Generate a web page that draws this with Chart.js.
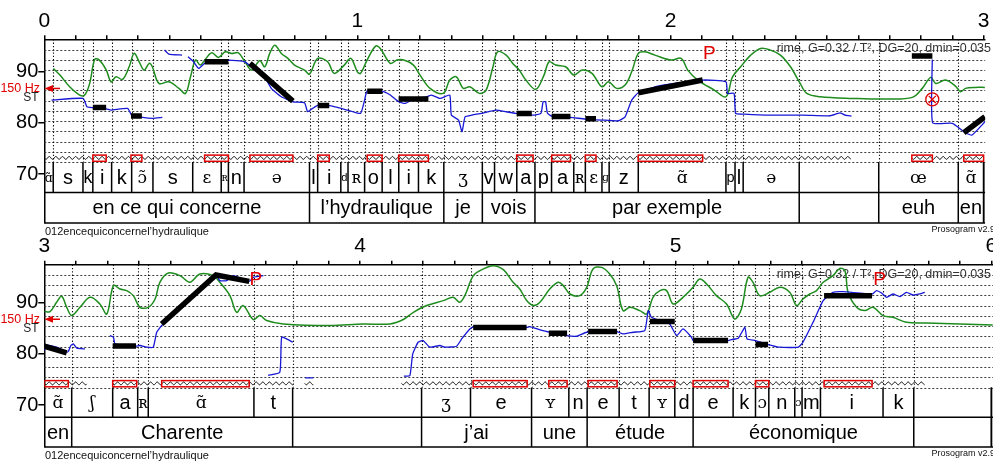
<!DOCTYPE html>
<html>
<head>
<meta charset="utf-8">
<script src="https://cdn.jsdelivr.net/npm/chart.js@4/dist/chart.umd.min.js"></script>
<style>
  html, body { margin: 0; padding: 0; background: #fff; overflow: hidden; }
  #wrap { position: relative; width: 993px; height: 464px; }
  canvas { position: absolute; left: 0; }
  #c1 { top: 0; }
  #c2 { top: 232px; }
</style>
</head>
<body>
<div id="wrap">
  <canvas id="c1" width="993" height="240"></canvas>
  <canvas id="c2" width="993" height="232"></canvas>
</div>
<script>
// ---------- shared ----------
const yTicks = [70, 80, 90];          // semitone tick labels
const refHz = 150;                    // reference marker on the pitch axis
const fileName = '012encequiconcernel’hydraulique';
const stylText = 'rime, G=0.32 / T², DG=20, dmin=0.035';

// ---------- panel 1 : 0 – 3 s ----------
const phonTimesTop = [0, 0.0285, 0.1235, 0.155, 0.215, 0.279, 0.347, 0.474, 0.565, 0.588, 0.638,
  0.847, 0.873, 0.947, 0.970, 1.023, 1.079, 1.132, 1.195, 1.276, 1.399, 1.438, 1.509, 1.567,
  1.620, 1.691, 1.728, 1.781, 1.804, 1.897, 2.177, 2.206, 2.232, 2.411, 2.665, 2.919, 3.0];
const phonLabelsTop = ['ɑ̃', 's', 'k', 'i', 'k', 'ɔ̃', 's', 'ɛ', 'ʀ', 'n', 'ə',
  'l', 'i', 'd', 'ʀ', 'o', 'l', 'i', 'k', 'ʒ', 'v', 'w', 'a', 'p',
  'a', 'ʀ', 'ɛ', 'ɡ', 'z', 'ɑ̃', 'p', 'l', 'ə', '', 'œ', 'ɑ̃'];
const wordTimesTop = [0, 0.847, 1.276, 1.399, 1.567, 2.411, 2.665, 2.919, 3.0];
const wordLabelsTop = ['en ce qui concerne', 'l’hydraulique', 'je', 'vois', 'par exemple', '', 'euh', 'en'];
const nucleiTop = [[0.155, 0.1976], [0.2768, 0.3116], [0.512, 0.588], [0.6567, 0.7939], [0.873, 0.910],
  [1.0313, 1.0788], [1.1317, 1.2267], [1.5085, 1.561], [1.6203, 1.6805], [1.728, 1.762],
  [1.8968, 2.1026], [2.7707, 2.8363], [2.9366, 3.0]];
// stylized pitch: [start, end, semitones at start, semitones at end]
const stylTop = [[0.155, 0.1976, 83.0, 83.0], [0.2768, 0.3116, 81.35, 81.35], [0.512, 0.588, 91.95, 91.95],
  [0.6567, 0.7939, 91.64, 84.28], [0.873, 0.910, 83.4, 83.4], [1.0313, 1.0788, 86.2, 86.2],
  [1.1317, 1.2267, 84.67, 84.67], [1.5085, 1.557, 81.87, 81.87], [1.6203, 1.6805, 81.28, 81.28],
  [1.728, 1.762, 80.8, 80.8], [1.8968, 2.1026, 85.9, 88.4], [2.7707, 2.8363, 93.07, 93.07],
  [2.9366, 3.004, 78.1, 81.2]];
const voicedTop = [[0, 2.577], [2.7707, 3.0]];
const f0Top = [
  [0.023, 84.47], [0.124, 84.80], [0.136, 83.16], [0.155, 82.97], [0.198, 82.77], [0.213, 82.52],
  [0.266, 82.85], [0.279, 81.54], [0.314, 81.09], [0.345, 80.90], [0.377, 81.09], null,
  [0.384, 94.24], [0.398, 93.46], [0.440, 93.26], null,
  [0.459, 92.93], [0.477, 91.95], [0.493, 90.66], [0.512, 91.64], [0.588, 92.29], [0.641, 91.95],
  [0.673, 90.33], [0.704, 89.02], [0.725, 86.76], [0.757, 85.12], [0.794, 84.14], [0.831, 83.95],
  [0.841, 82.19], [0.857, 82.85], [0.873, 83.44], [0.905, 83.44], [0.936, 83.05], [0.968, 82.52],
  [1.010, 81.88], [1.023, 84.47], [1.031, 86.23], [1.079, 86.23], [1.105, 85.45], [1.132, 84.14],
  [1.153, 83.83], [1.179, 84.67], [1.221, 85.12], [1.237, 85.45], [1.264, 84.80], [1.295, 85.45],
  [1.300, 81.54], [1.323, 80.57], [1.334, 78.28], [1.344, 81.21], [1.366, 81.54], [1.397, 81.88],
  [1.443, 82.52], [1.475, 82.19], [1.506, 81.88], [1.559, 81.54], [1.586, 81.88], [1.593, 84.14],
  [1.601, 84.14], [1.607, 81.88], [1.623, 81.29], [1.680, 81.09], [1.728, 80.76], [1.781, 80.57],
  [1.833, 80.43], [1.855, 81.21], [1.876, 84.47], [1.897, 85.90], [1.960, 87.21], [2.103, 88.38],
  [2.177, 88.05], [2.182, 85.78], [2.203, 85.78], [2.208, 81.88], [2.235, 81.74], [2.319, 81.54],
  [2.425, 81.54], [2.509, 81.41], [2.541, 81.99], [2.557, 81.54], [2.578, 81.35], null,
  [2.836, 92.42], [2.837, 80.04], [2.900, 79.92], [2.942, 78.09], [2.963, 77.64], [3.004, 80.23]];
const intensityTop = [
  [0.029, 90.66], [0.050, 89.36], [0.081, 87.07], [0.113, 85.45], [0.129, 85.45], [0.145, 87.73],
  [0.161, 92.42], [0.176, 92.29], [0.198, 90.33], [0.213, 88.05], [0.229, 89.02], [0.250, 88.52],
  [0.271, 90.98], [0.287, 93.59], [0.303, 91.95], [0.319, 90.33], [0.335, 91.64], [0.345, 90.98],
  [0.366, 87.73], [0.398, 88.05], [0.430, 86.76], [0.451, 85.78], [0.467, 89.02], [0.483, 92.29],
  [0.498, 91.31], [0.514, 92.42], [0.535, 93.71], [0.556, 92.81], [0.578, 93.91], [0.598, 93.59],
  [0.620, 93.71], [0.641, 91.95], [0.662, 90.33], [0.688, 92.15], [0.704, 90.98], [0.720, 93.59],
  [0.736, 95.21], [0.757, 93.59], [0.778, 92.62], [0.799, 91.31], [0.831, 90.33], [0.847, 89.55],
  [0.873, 92.62], [0.905, 91.95], [0.926, 89.69], [0.958, 91.31], [0.979, 92.62], [1.000, 90.00],
  [1.010, 89.69], [1.031, 92.29], [1.058, 95.02], [1.073, 94.57], [1.105, 91.64], [1.126, 92.29],
  [1.148, 92.29], [1.179, 91.31], [1.200, 89.36], [1.232, 86.76], [1.274, 85.78], [1.295, 88.38],
  [1.316, 89.02], [1.338, 86.76], [1.359, 87.07], [1.390, 85.78], [1.411, 86.43], [1.433, 90.98],
  [1.448, 93.91], [1.475, 93.26], [1.496, 91.64], [1.517, 90.33], [1.538, 88.38], [1.570, 86.56],
  [1.596, 89.36], [1.612, 91.95], [1.633, 91.31], [1.665, 90.98], [1.691, 89.36], [1.718, 90.33],
  [1.749, 89.69], [1.781, 87.07], [1.802, 88.05], [1.828, 86.76], [1.855, 87.40], [1.876, 90.00],
  [1.897, 93.59], [1.918, 93.91], [1.950, 93.26], [2.003, 92.29], [2.034, 92.62], [2.055, 90.33],
  [2.087, 88.38], [2.140, 86.43], [2.177, 85.12], [2.198, 89.02], [2.224, 90.98], [2.256, 93.26],
  [2.288, 94.57], [2.319, 94.24], [2.351, 93.26], [2.383, 90.98], [2.414, 87.73], [2.435, 85.78],
  [2.478, 85.12], [2.583, 84.80], [2.688, 84.67], [2.772, 85.00], [2.804, 86.76], [2.831, 88.91],
  [2.847, 87.73], [2.878, 88.38], [2.910, 87.21], [2.926, 86.09], [2.942, 86.76], [2.973, 86.95],
  [3.004, 86.95]];
const promTop = [[2.124, 93.6]];      // "P" marks
const jumpsTop = [[2.836, 84.6]];     // ⊗ marks

// ---------- panel 2 : 3 – 6 s ----------
const phonTimesBot = [3.0, 3.0868, 3.2166, 3.2958, 3.3293, 3.664, 3.7866, 4.195, 4.350, 4.5434,
  4.6615, 4.7194, 4.8208, 4.9158, 4.9971, 5.0551, 5.1818, 5.2527, 5.2949, 5.3771, 5.4002,
  5.4585, 5.6567, 5.754, 6.0];
const phonLabelsBot = ['ɑ̃', 'ʃ', 'a', 'ʀ', 'ɑ̃', 't', '', 'ʒ', 'e', 'ʏ', 'n', 'e', 't', 'ʏ', 'd',
  'e', 'k', 'ɔ', 'n', 'ɔ', 'm', 'i', 'k', ''];
const wordTimesBot = [3.0, 3.0868, 3.7866, 4.195, 4.5434, 4.7194, 5.0551, 5.754, 6.0];
const wordLabelsBot = ['en', 'Charente', '', 'j’ai', 'une', 'étude', 'économique', ''];
const nucleiBot = [[3.0, 3.076], [3.2166, 3.2926], [3.3718, 3.6491], [4.3585, 4.5295], [4.598, 4.656],
  [4.7226, 4.8144], [4.918, 4.997], [5.0551, 5.1659], [5.2527, 5.2949], [5.470, 5.622]];
const stylBot = [[3.0, 3.071, 81.48, 80.18], [3.2166, 3.2904, 81.5, 81.5], [3.3718, 3.5437, 85.83, 95.38],
  [3.5437, 3.6491, 95.38, 94.15], [4.3585, 4.5276, 85.13, 85.13], [4.598, 4.656, 84.0, 84.0],
  [4.7226, 4.8144, 84.35, 84.35], [4.918, 4.997, 86.3, 86.3], [5.0551, 5.1659, 82.6, 82.6],
  [5.2527, 5.2926, 81.8, 81.8], [5.470, 5.622, 91.36, 91.36]];
const voicedBot = [[3.0, 3.136], [3.2166, 3.7885], [3.825, 3.852], [4.1317, 5.789]];
const f0Bot = [
  [3.000, 80.64], [3.008, 81.68], [3.039, 81.29], [3.071, 80.31], [3.076, 80.45], [3.084, 81.62],
  [3.092, 81.93], [3.103, 81.09], [3.129, 80.96], null,
  [3.208, 83.57], [3.219, 83.24], [3.224, 81.93], [3.290, 81.48], [3.303, 81.62], [3.324, 81.29],
  [3.345, 81.29], [3.356, 84.21], [3.372, 85.52], [3.544, 95.38], [3.556, 94.29], [3.578, 94.29],
  [3.599, 95.26], [3.649, 94.15], [3.662, 94.93], [3.673, 95.07], [3.694, 95.26], null,
  [3.709, 75.77], [3.746, 76.41], [3.752, 83.24], [3.778, 82.59], [3.787, 82.26], null,
  [3.826, 75.30], [3.852, 75.30], null,
  [4.139, 75.63], [4.158, 75.77], [4.167, 79.98], [4.184, 82.26], [4.200, 82.59], [4.221, 81.29],
  [4.253, 81.62], [4.269, 81.29], [4.306, 81.48], [4.322, 82.90], [4.348, 84.85], [4.359, 85.19],
  [4.528, 85.13], [4.538, 85.32], [4.570, 84.66], [4.601, 84.21], [4.654, 83.57], [4.686, 83.43],
  [4.718, 84.21], [4.813, 84.35], [4.833, 83.88], [4.865, 84.21], [4.902, 84.54], [4.913, 88.44],
  [4.923, 87.13], [4.960, 86.30], [4.981, 85.83], [5.003, 83.57], [5.023, 84.85], [5.050, 83.24],
  [5.055, 82.59], [5.166, 82.59], [5.177, 82.79], [5.198, 83.04], [5.219, 85.19], [5.226, 82.90],
  [5.253, 82.59], [5.293, 81.81], [5.330, 81.29], [5.388, 81.29], [5.403, 82.26], [5.435, 86.16],
  [5.467, 90.39], [5.498, 92.01], [5.530, 92.14], [5.622, 91.68], [5.636, 92.34], [5.652, 91.87],
  [5.668, 91.03], [5.688, 91.68], [5.710, 91.17], [5.731, 92.01], [5.752, 91.48], [5.773, 91.68],
  [5.789, 92.01]];
const intensityBot = [
  [3.000, 88.25], [3.018, 88.25], [3.039, 90.06], [3.055, 91.23], [3.071, 89.08], [3.087, 87.47],
  [3.113, 89.08], [3.145, 91.03], [3.176, 89.73], [3.198, 87.78], [3.219, 93.31], [3.240, 92.65],
  [3.261, 92.34], [3.282, 91.36], [3.303, 89.08], [3.329, 89.08], [3.351, 90.70], [3.366, 93.96],
  [3.393, 95.77], [3.430, 95.26], [3.461, 93.96], [3.493, 95.58], [3.535, 95.26], [3.556, 93.96],
  [3.588, 91.36], [3.609, 88.11], [3.630, 89.42], [3.662, 86.69], [3.683, 87.47], [3.704, 86.49],
  [3.757, 85.83], [3.905, 85.52], [4.010, 85.83], [4.095, 85.83], [4.137, 86.69], [4.169, 88.11],
  [4.211, 89.42], [4.264, 90.39], [4.295, 91.03], [4.316, 90.06], [4.332, 91.36], [4.359, 95.26],
  [4.390, 96.55], [4.422, 97.21], [4.454, 96.43], [4.485, 93.96], [4.506, 92.65], [4.528, 90.39],
  [4.549, 89.42], [4.570, 90.06], [4.601, 92.65], [4.628, 93.96], [4.644, 93.31], [4.665, 91.68],
  [4.696, 91.36], [4.718, 92.98], [4.738, 96.55], [4.765, 96.88], [4.791, 95.58], [4.813, 93.31],
  [4.833, 88.44], [4.855, 89.08], [4.886, 88.44], [4.908, 87.78], [4.928, 91.03], [4.950, 92.34],
  [4.971, 92.34], [4.992, 89.73], [5.023, 91.03], [5.055, 92.98], [5.076, 94.60], [5.098, 93.63],
  [5.129, 91.36], [5.161, 89.73], [5.187, 86.80], [5.208, 88.75], [5.229, 94.93], [5.245, 93.96],
  [5.266, 91.36], [5.298, 92.01], [5.330, 92.98], [5.361, 92.01], [5.383, 89.42], [5.403, 90.70],
  [5.425, 91.68], [5.446, 92.34], [5.467, 93.96], [5.498, 95.26], [5.520, 96.69], [5.536, 96.24],
  [5.546, 92.01], [5.573, 89.08], [5.599, 88.44], [5.625, 89.08], [5.657, 87.47], [5.688, 87.13],
  [5.731, 86.16], [5.794, 86.02], [5.900, 85.83], [6.004, 85.63]];
const promBot = [[3.670, 94.4], [5.646, 94.4]];
const jumpsBot = [];

// ---------- drawing ----------
const GREEN = '#1e8c1e', BLUE = '#1717d6', RED = '#e00000';
const SANS = "'Liberation Sans', Arial, sans-serif";
const SERIF = "'DejaVu Serif', 'Liberation Serif', serif";
Chart.defaults.font.family = SANS;

function series(pairs) {
  const out = [];
  for (const p of pairs) {
    if (p === null) out.push({ x: out.length ? out[out.length - 1].x : 0, y: null });
    else out.push({ x: p[0], y: p[1] });
  }
  return out;
}
function stylized(segs) {
  const out = [];
  segs.forEach((s, i) => {
    const prev = segs[i - 1];
    const joined = prev && Math.abs(prev[1] - s[0]) < 1e-6 && Math.abs(prev[3] - s[2]) < 1e-6;
    if (!joined) {
      if (out.length) out.push({ x: s[0], y: null });
      out.push({ x: s[0], y: s[2] });
    }
    out.push({ x: s[1], y: s[3] });
  });
  return out;
}
function line(ctx, x0, y0, x1, y1) { ctx.beginPath(); ctx.moveTo(x0, y0); ctx.lineTo(x1, y1); ctx.stroke(); }

function tierLabel(ctx, text, x0, x1, y, serifAllowed) {
  if (!text) return;
  const ipa = serifAllowed && !/^[a-z]+$/i.test(text);
  const fam = ipa ? SERIF : SANS;
  let size = ipa ? 17 : 20;
  ctx.font = size + 'px ' + fam;
  const w = ctx.measureText(text).width, room = x1 - x0 - 1;
  if (w > room) { size = Math.max(11, size * room / w); ctx.font = size + 'px ' + fam; }
  ctx.fillText(text, (x0 + x1) / 2, y);
}

function makePlugin(P) {
  return {
    id: 'proso',
    beforeDatasetsDraw(chart) {
      const { ctx, chartArea: a } = chart, xs = chart.scales.x, ys = chart.scales.y;
      const yFloor = ys.getPixelForValue(P.floor);
      ctx.save();
      // stylization parameters
      ctx.fillStyle = '#333'; ctx.font = '12.5px ' + SANS; ctx.textAlign = 'right'; ctx.textBaseline = 'middle';
      ctx.fillText(stylText, 991, a.top + 9.5);
      // horizontal dotted grid every 2 ST from the floor
      ctx.strokeStyle = '#3a3a3a'; ctx.lineWidth = 1; ctx.setLineDash([2, 2]);
      for (let v = P.floor; v < P.top - 0.5; v += 2) {
        const y = Math.round(ys.getPixelForValue(v)) + 0.5;
        line(ctx, a.left, y, a.right, y);
      }
      // dotted boundaries between segments
      ctx.strokeStyle = '#111'; ctx.lineWidth = 1.1; ctx.setLineDash([1.3, 2]);
      P.phonTimes.slice(1, -1).forEach(t => {
        const x = Math.round(xs.getPixelForValue(t)) + 0.5;
        line(ctx, x, a.top, x, yFloor);
      });
      ctx.restore();
    },
    afterDatasetsDraw(chart) {
      const { ctx, chartArea: a } = chart, xs = chart.scales.x, ys = chart.scales.y;
      const yFloor = ys.getPixelForValue(P.floor);
      const yPh = ys.getPixelForValue(P.floor - P.tier);
      const yWd = a.bottom;
      const xEnd = xs.getPixelForValue(P.t1);
      ctx.save();
      ctx.beginPath(); ctx.rect(a.left, 0, a.right - a.left, chart.height); ctx.clip();
      // voicing wave
      ctx.strokeStyle = '#000'; ctx.lineWidth = 1;
      const yZig = yFloor - 4.2;
      ctx.beginPath();
      P.voiced.forEach(([t0, t1]) => {
        const x0 = xs.getPixelForValue(t0), x1 = Math.min(xs.getPixelForValue(t1), a.right);
        for (let x = x0; x <= x1; x += 0.5) {
          const y = yZig + 1.4 * Math.sin((x - x0) / 6.6 * 2 * Math.PI);
          if (x === x0) ctx.moveTo(x, y); else ctx.lineTo(x, y);
        }
      });
      ctx.stroke();
      // syllabic nuclei
      ctx.strokeStyle = RED; ctx.lineWidth = 1.5;
      P.nuclei.forEach(([t0, t1]) => {
        const x0 = xs.getPixelForValue(t0), x1 = xs.getPixelForValue(t1);
        ctx.strokeRect(x0, yFloor - 7, x1 - x0, 6.2);
      });
      // prominence marks
      ctx.fillStyle = RED; ctx.font = '19px ' + SANS; ctx.textAlign = 'center'; ctx.textBaseline = 'middle';
      P.prom.forEach(([t, v]) => ctx.fillText('P', xs.getPixelForValue(t), ys.getPixelForValue(v)));
      // tiers
      ctx.strokeStyle = '#000'; ctx.lineWidth = 1.5;
      line(ctx, a.left, yPh, a.right, yPh);
      line(ctx, a.left, yWd, a.right, yWd);
      P.phonTimes.forEach(t => { const x = xs.getPixelForValue(t); line(ctx, x, yFloor, x, yPh); });
      P.wordTimes.forEach(t => { const x = xs.getPixelForValue(t); line(ctx, x, yPh, x, yWd); });
      line(ctx, xEnd, yFloor, xEnd, yWd);
      ctx.fillStyle = '#000'; ctx.textAlign = 'center'; ctx.textBaseline = 'middle';
      P.phonLabels.forEach((s, i) => tierLabel(ctx, s, xs.getPixelForValue(P.phonTimes[i]),
        xs.getPixelForValue(P.phonTimes[i + 1]), (yFloor + yPh) / 2 + 1, true));
      P.wordLabels.forEach((s, i) => tierLabel(ctx, s, xs.getPixelForValue(P.wordTimes[i]),
        xs.getPixelForValue(P.wordTimes[i + 1]), (yPh + yWd) / 2 + 1, false));
      ctx.restore();
    },
    afterDraw(chart) {
      const { ctx, chartArea: a } = chart, ys = chart.scales.y;
      ctx.save();
      // reference frequency marker
      const y150 = ys.getPixelForValue(12 * Math.log2(refHz));
      ctx.fillStyle = RED; ctx.font = '12.5px ' + SANS; ctx.textAlign = 'right'; ctx.textBaseline = 'middle';
      ctx.fillText(refHz + ' Hz', 40, y150);
      ctx.strokeStyle = RED; ctx.lineWidth = 1.5;
      line(ctx, 52, y150, 60, y150);
      ctx.beginPath(); ctx.moveTo(44.5, y150); ctx.lineTo(53, y150 - 3.5); ctx.lineTo(53, y150 + 3.5); ctx.closePath(); ctx.fill();
      ctx.fillStyle = '#222'; ctx.font = '12px ' + SANS; ctx.textAlign = 'center';
      ctx.fillText('ST', 31, y150 + 9.5);
      // footer
      ctx.fillStyle = '#111'; ctx.font = '11px ' + SANS; ctx.textAlign = 'left';
      ctx.fillText(fileName, 45, a.bottom + 8.5);
      ctx.font = '9px ' + SANS; ctx.textAlign = 'right';
      ctx.fillText('Prosogram v2.9', 995, a.bottom + 6.5);
      ctx.restore();
    }
  };
}

const panels = [
  { id: 'c1', t0: 0, t1: 3, top: 96.35, floor: 72.35, tier: 5.95, axisH: 39.3, padBottom: 17,
    phonTimes: phonTimesTop, phonLabels: phonLabelsTop, wordTimes: wordTimesTop, wordLabels: wordLabelsTop,
    nuclei: nucleiTop, styl: stylTop, voiced: voicedTop, f0: f0Top, intensity: intensityTop,
    prom: promTop, jumps: jumpsTop },
  { id: 'c2', t0: 3, t1: 6, top: 97.4, floor: 73.4, tier: 5.8, axisH: 32.7, padBottom: 17,
    phonTimes: phonTimesBot, phonLabels: phonLabelsBot, wordTimes: wordTimesBot, wordLabels: wordLabelsBot,
    nuclei: nucleiBot, styl: stylBot, voiced: voicedBot, f0: f0Bot, intensity: intensityBot,
    prom: promBot, jumps: jumpsBot }
];

panels.forEach(P => {
  const timeTicks = [];
  for (let i = 0; i <= 30; i++) timeTicks.push(Math.round((P.t0 + i / 10) * 1e6) / 1e6);
  new Chart(document.getElementById(P.id), {
    type: 'scatter',
    data: {
      datasets: [
        { data: series(P.intensity), showLine: true, borderColor: GREEN, borderWidth: 1.5, pointRadius: 0,
          tension: 0.35, order: 3 },
        { data: series(P.f0), showLine: true, borderColor: BLUE, borderWidth: 1.3, pointRadius: 0,
          tension: 0.15, order: 2 },
        { data: stylized(P.styl), showLine: true, borderColor: '#000', borderWidth: 5.5, pointRadius: 0,
          borderCapStyle: 'butt', borderJoinStyle: 'miter', order: 1 },
        { data: P.jumps.map(([x, y]) => ({ x, y })), showLine: false, pointStyle: 'circle', pointRadius: 6.5,
          borderColor: RED, borderWidth: 1.3, backgroundColor: 'rgba(0,0,0,0)', order: 0 },
        { data: P.jumps.map(([x, y]) => ({ x, y })), showLine: false, pointStyle: 'crossRot', pointRadius: 5,
          borderColor: RED, borderWidth: 1.3, order: 0 }
      ]
    },
    options: {
      responsive: false, animation: false, devicePixelRatio: 1, events: [],
      layout: { padding: { left: 0, right: 0, top: 0, bottom: P.padBottom } },
      plugins: { legend: { display: false }, tooltip: { enabled: false } },
      scales: {
        x: {
          type: 'linear', position: 'top', min: P.t0, max: P.t1 + 0.005,
          afterBuildTicks: s => { s.ticks = timeTicks.map(v => ({ value: v })); },
          afterFit: s => { s.height = P.axisH; s.paddingLeft = 0; s.paddingRight = 0; },
          ticks: { autoSkip: false, maxRotation: 0, padding: 1.5, color: '#000', font: { size: 21 },
            callback: v => Math.abs(v - Math.round(v)) < 1e-6 ? String(Math.round(v)) : '' },
          grid: { drawOnChartArea: false, drawTicks: true, tickLength: 4, color: '#000', lineWidth: 1.5 },
          border: { display: true, color: '#000', width: 1.5 }
        },
        y: {
          type: 'linear', position: 'left', min: P.floor - 2 * P.tier, max: P.top,
          afterBuildTicks: s => { s.ticks = yTicks.map(v => ({ value: v })); },
          afterFit: s => { s.width = 44.3; s.paddingTop = 0; s.paddingBottom = 0; },
          ticks: { padding: 0, color: '#000', font: { size: 20 } },
          grid: { drawOnChartArea: false, drawTicks: true, tickLength: 6, color: '#000', lineWidth: 1.5 },
          border: { display: true, color: '#000', width: 1.5 }
        }
      }
    },
    plugins: [makePlugin(P)]
  });
});
</script>
</body>
</html>
